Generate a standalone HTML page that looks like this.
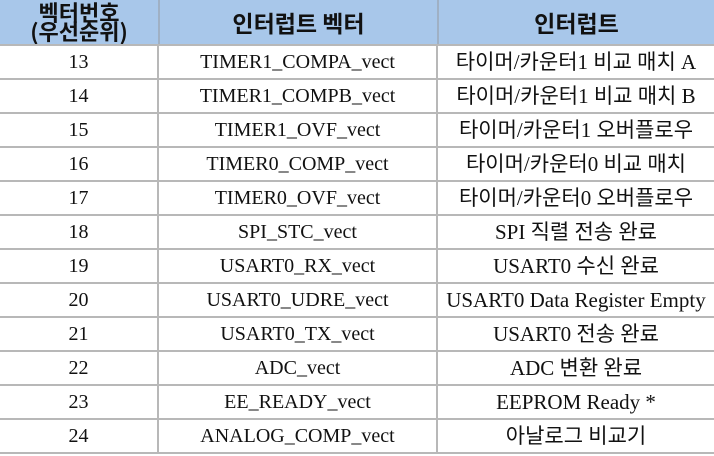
<!DOCTYPE html>
<html><head><meta charset="utf-8"><style>
body{margin:0;width:714px;height:456px;background:#fff;overflow:hidden;position:relative}
.c{position:absolute;display:flex;align-items:center;justify-content:center;text-align:center;font-family:"Liberation Serif","Noto Sans CJK KR",serif;font-size:20px;color:#111;line-height:20px;white-space:nowrap}
.d{font-size:21px}
.h{background:#a8c7ea;font-family:"Noto Sans CJK KR",sans-serif;font-weight:bold;font-size:23px;line-height:18px;top:0;height:44px}
.h1{font-size:22px;line-height:19px}
.hl{position:absolute;left:0;width:714px;height:2px;background:#b8b8b8}
.vl{position:absolute;width:2px;background:#b8b8b8;top:44px;height:410px}
</style></head><body>
<div class="c h h1" style="left:0;width:158px">벡터번호<br>(우선순위)</div>
<div class="c h" style="left:158px;width:2px;background:#9fb0c4;padding:0"></div>
<div class="c h" style="left:160px;width:277px">인터럽트 벡터</div>
<div class="c h" style="left:437px;width:2px;background:#9fb0c4;padding:0"></div>
<div class="c h" style="left:439px;width:275px">인터럽트</div>
<div class="vl" style="left:157px"></div>
<div class="vl" style="left:436px"></div>
<div id="rows"></div>
<script>
const nums=["13","14","15","16","17","18","19","20","21","22","23","24"];
const vects=["TIMER1_COMPA_vect","TIMER1_COMPB_vect","TIMER1_OVF_vect","TIMER0_COMP_vect","TIMER0_OVF_vect","SPI_STC_vect","USART0_RX_vect","USART0_UDRE_vect","USART0_TX_vect","ADC_vect","EE_READY_vect","ANALOG_COMP_vect"];
const descs=["타이머/카운터1 비교 매치 A","타이머/카운터1 비교 매치 B","타이머/카운터1 오버플로우","타이머/카운터0 비교 매치","타이머/카운터0 오버플로우","SPI 직렬 전송 완료","USART0 수신 완료","USART0 Data Register Empty","USART0 전송 완료","ADC 변환 완료","EEPROM Ready *","아날로그 비교기"];
const root=document.getElementById('rows');
const top0=44,rh=34;
for(let i=0;i<=nums.length;i++){
  const l=document.createElement('div');l.className='hl';l.style.top=(top0+i*rh)+'px';
  
  
  root.appendChild(l);
}
const cols=[[0,157],[159,277],[438,276]];
nums.forEach((n,i)=>{
  [n,vects[i],descs[i]].forEach((t,j)=>{
    const d=document.createElement('div');d.className='c'+(j===2?' d':'');
    d.style.left=cols[j][0]+'px';d.style.width=cols[j][1]+'px';
    d.style.top=(top0+i*rh+2)+'px';d.style.height=(rh-2)+'px';
    d.textContent=t;
    
    
    root.appendChild(d);
  });
});
</script>
</body></html>
